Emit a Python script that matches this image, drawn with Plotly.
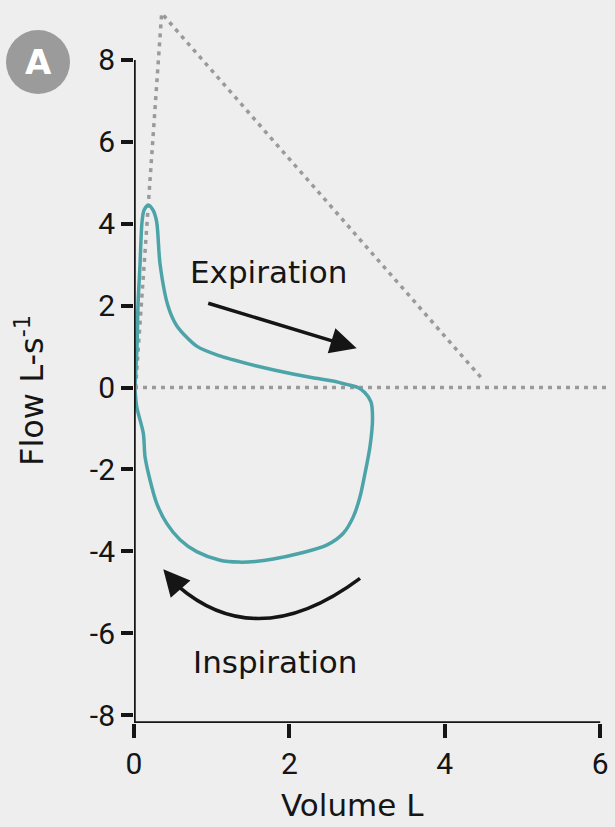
import plotly.graph_objects as go

# ---- data ----
loop_volume = [0.013, 0.039, 0.051, 0.077, 0.103, 0.129, 0.184, 0.245, 0.292, 0.335, 0.438, 0.55,
               0.807, 1.107, 1.579, 2.046, 2.30, 2.56, 2.75, 2.88, 2.97, 3.05, 3.07, 3.037, 2.973,
               2.909, 2.822, 2.694, 2.48, 2.136, 1.793, 1.56, 1.35, 1.107, 0.807, 0.592, 0.421,
               0.292, 0.206, 0.142, 0.120, 0.035, 0.013]
loop_flow = [0.04, 1.04, 1.99, 2.99, 4.04, 4.33, 4.46, 4.33, 4.04, 3.02, 1.99, 1.51,
             1.01, 0.77, 0.525, 0.33, 0.24, 0.16, 0.07, 0.0, -0.12, -0.35, -0.75, -1.45, -2.10,
             -2.67, -3.16, -3.56, -3.85, -4.05, -4.19, -4.25, -4.265, -4.22, -4.01, -3.72, -3.32,
             -2.83, -2.26, -1.69, -1.12, -0.47, -0.04]

envelope_volume = [0.02, 0.356, 4.475]
envelope_flow = [0.0, 9.14, 0.225]

zero_volume = [0.0, 6.1]
zero_flow = [0.0, 0.0]

x_ticks = [0, 2, 4, 6]
y_ticks = [-8, -6, -4, -2, 0, 2, 4, 6, 8]

TEAL = "#4ca4a8"
GREY = "#9a9a9a"
BG = "#eeeeef"
INK = "#151515"
TICKFONT = "Roboto"
WORDFONT = "DejaVu Sans"

fig = go.Figure()
fig.add_trace(go.Scatter(x=zero_volume, y=zero_flow, mode="lines",
                         line=dict(color=GREY, width=3.5, dash="4px,5px"),
                         hoverinfo="skip", showlegend=False))
fig.add_trace(go.Scatter(x=envelope_volume, y=envelope_flow, mode="lines",
                         line=dict(color=GREY, width=3.5, dash="4px,5px"),
                         hoverinfo="skip", showlegend=False))
fig.add_trace(go.Scatter(x=loop_volume, y=loop_flow, mode="lines",
                         line=dict(color=TEAL, width=3.5, shape="spline", smoothing=0.8),
                         showlegend=False))

# axis lines (stop at the last ticks as in the reference)
fig.add_shape(type="line", xref="x", yref="y", x0=0, x1=0, y0=-8.195, y1=8,
              line=dict(color=INK, width=3.5))
fig.add_shape(type="line", xref="x", yref="y", x0=0, x1=6, y0=-8.195, y1=-8.195,
              line=dict(color=INK, width=3.5))

# curved inspiration arrow
fig.add_shape(type="path", xref="x", yref="y",
              path="M 2.909,-4.66 Q 1.59,-6.525 0.566,-4.85",
              line=dict(color=INK, width=3.5))
fig.add_annotation(x=0.377, y=-4.44, ax=0.566, ay=-4.85, xref="x", yref="y",
                   axref="x", ayref="y", text="", showarrow=True,
                   arrowhead=2, arrowsize=1.5, arrowwidth=3.5, arrowcolor=INK)
# straight expiration arrow
fig.add_annotation(x=2.866, y=0.957, ax=0.936, ay=2.07, xref="x", yref="y",
                   axref="x", ayref="y", text="", showarrow=True,
                   arrowhead=2, arrowsize=1.5, arrowwidth=3.5, arrowcolor=INK)

fig.add_annotation(x=1.737, y=2.83, xref="x", yref="y", text="Expiration",
                   xanchor="center", yanchor="middle",
                   showarrow=False, font=dict(family=WORDFONT, size=31, color=INK))
fig.add_annotation(x=1.821, y=-6.70, xref="x", yref="y", text="Inspiration",
                   xanchor="center", yanchor="middle",
                   showarrow=False, font=dict(family=WORDFONT, size=31, color=INK))

# panel badge
fig.add_shape(type="circle", xref="paper", yref="paper",
              xsizemode="pixel", ysizemode="pixel",
              xanchor=-0.2004, yanchor=0.9142, x0=-32, x1=32, y0=-32, y1=32,
              fillcolor="#9b9b9b", line=dict(width=0))
fig.add_annotation(x=-0.2004, y=0.9142, xref="paper", yref="paper", text="<b>A</b>",
                   xanchor="center", yanchor="middle",
                   showarrow=False, font=dict(family=WORDFONT, size=34, color="white"))

# axis titles
fig.add_annotation(x=(352.5 - 134) / 479, y=(723 - 805) / 723, xref="paper", yref="paper",
                   text="Volume L", xanchor="center", yanchor="middle", showarrow=False,
                   font=dict(family=WORDFONT, size=31, color=INK))
fig.add_annotation(x=(30 - 134) / 479, y=(723 - 391) / 723, xref="paper", yref="paper",
                   text="Flow L-s<sup>-1</sup>", textangle=-90, showarrow=False,
                   xanchor="center", yanchor="middle",
                   font=dict(family=WORDFONT, size=32, color=INK))

fig.update_xaxes(range=[0, 6.165], tickvals=x_ticks, ticktext=[str(v) for v in x_ticks],
                 showgrid=False, zeroline=False, showline=False,
                 ticks="outside", ticklen=14, tickwidth=3.5, tickcolor=INK,
                 tickfont=dict(family=TICKFONT, size=30, color=INK))
fig.update_yaxes(range=[-8.195, 9.465], tickvals=y_ticks, ticktext=[str(v) for v in y_ticks],
                 showgrid=False, zeroline=False, showline=False,
                 ticks="outside", ticklen=12, tickwidth=3.5, tickcolor=INK,
                 tickfont=dict(family=TICKFONT, size=30, color=INK))

fig.update_layout(width=615, height=827, margin=dict(l=134, r=2, t=0, b=104),
                  paper_bgcolor=BG, plot_bgcolor=BG, showlegend=False)

fig.write_html("out.html", config={"displayModeBar": False},
               post_script="document.body.style.margin='0';document.body.style.overflow='hidden';")
